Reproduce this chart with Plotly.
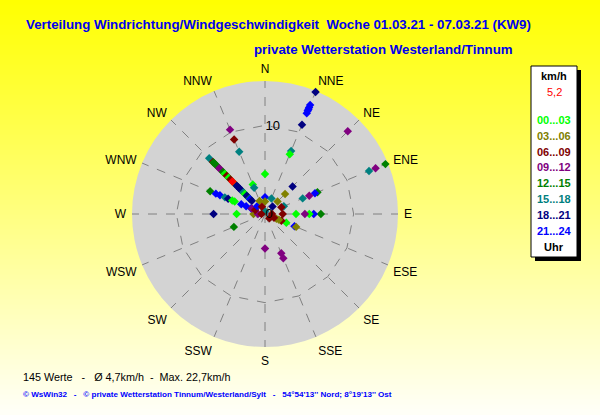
import plotly.graph_objects as go

# Windrichtung (16 Sektoren), Geschwindigkeit in km/h, Zeitfenster-Index
directions = ["N", "NNE", "NE", "ENE", "E", "ESE", "SE", "SSE",
              "S", "SSW", "SW", "WSW", "W", "WNW", "NW", "NNW"]

slot_labels = ["00...03", "03...06", "06...09", "09...12",
               "12...15", "15...18", "18...21", "21...24"]
slot_colors = ["#00ff00", "#808000", "#800000", "#800080",
               "#008000", "#008080", "#000080", "#0000ff"]
current_color = "#ff0000"
current_speed = "5,2"

point_dir = [
    "N", "N", "N", "N", "N",
    "NNE", "NNE", "NNE", "NNE", "NNE", "NNE", "NNE", "NNE", "NNE", "NNE",
    "NE", "NE", "NE", "NE", "NE",
    "ENE", "ENE", "ENE", "ENE", "ENE", "ENE", "ENE", "ENE", "ENE", "ENE",
    "E", "E", "E", "E", "E", "E", "E",
    "ESE", "ESE", "ESE", "ESE", "ESE", "ESE", "ESE",
    "SE", "SSE", "SSE", "S", "WSW",
    "W", "W", "W", "W", "W",
    "WNW", "WNW", "WNW", "WNW", "WNW", "WNW", "WNW", "WNW", "WNW", "WNW", "WNW", "WNW",
    "NW", "NW", "NW", "NW", "NW", "NW", "NW", "NW", "NW", "NW", "NW", "NW",
    "NW", "NW", "NW", "NW", "NW", "NW", "NW", "NW", "NW", "NW", "NW", "NW", "NW", "NW",
    "NNW", "NNW", "NNW", "NNW", "NNW", "NNW", "NNW",
]
point_speed = [
    0.0, 0.3, 4.5, 1.9, 1.4,
    14.9, 13.3, 13.0, 12.8, 12.6, 12.3, 10.9, 7.7, 7.3, 1.9,
    13.2, 4.4, 3.2, 2.0, 1.2,
    15.1, 14.7, 13.5, 12.7, 6.4, 6.1, 5.4, 4.6, 2.3, 2.0,
    6.3, 5.5, 5.0, 4.5, 3.5, 2.0, 0.8,
    3.6, 3.8, 2.6, 2.0, 1.7, 1.4, 1.1,
    0.7, 4.8, 5.4, 3.9, 3.8,
    5.8, 3.2, 1.3, 0.8, 0.4,
    6.7, 6.0, 5.5, 4.9, 4.5, 4.0, 3.7, 2.9, 2.3, 1.7, 1.6, 1.2,
    8.9, 8.3, 8.2, 7.9, 7.6, 7.3, 7.0, 6.7, 6.4, 6.1, 5.8, 5.5,
    5.0, 4.8, 4.5, 4.25, 4.0, 3.7, 3.45, 3.2, 2.9, 2.65, 2.45, 2.4, 2.1, 1.25,
    10.3, 9.1, 7.6, 3.6, 3.2, 1.6, 0.9,
]
point_slot = [
    0, 5, 0, 7, 1,
    6, 7, 7, 7, 7, 7, 6, 5, 0, 5,
    3, 6, 1, 1, 6,
    4, 4, 3, 5, 4, 7, 3, 5, 5, 2,
    4, 7, 0, 3, 0, 2, 2,
    7, 1, 0, 2, 1, 1, 2,
    2, 3, 3, 3, 4,
    6, 0, 1, 3, 2,
    4, 7, 7, 5, 6, 0, 0, 7, 7, 7, 3, 2,
    5, 2, 4, 4, 4, 3, 3, 4, 0, 2, 0, 2,
    1, 1, 6, 6, 6, 6, 5, 0, 6, 6, 0, 7, 6, 7,
    3, 2, 5, 0, 5, 1, 2,
]
# aktueller Wert (rot)
current_dir = "NW"
current_value = 5.2

W, H = 600, 415


def px(x):
    return x / W


def py(y):
    return 1 - y / H


fig = go.Figure()

# alle 16 Sektoren anlegen
fig.add_trace(go.Scatterpolar(
    r=[0] * len(directions), theta=directions, mode="markers",
    marker=dict(opacity=0), hoverinfo="skip", showlegend=False
))

fig.add_trace(go.Scatterpolar(
    r=point_speed, theta=point_dir, mode="markers",
    marker=dict(symbol="diamond", size=6.5,
                color=[slot_colors[s] for s in point_slot],
                line=dict(width=0)),
    cliponaxis=False, showlegend=False
))

fig.add_trace(go.Scatterpolar(
    r=[current_value], theta=[current_dir], mode="markers",
    marker=dict(symbol="diamond", size=6.5, color=current_color, line=dict(width=0)),
    cliponaxis=False, showlegend=False
))

# Hintergrund: Verlauf gelb -> hell
shapes = []
n_bands = 83
for i in range(n_bands):
    y0 = i * H / n_bands
    y1 = (i + 1) * H / n_bands
    t = (y0 + y1) / 2 / H
    b = int(round(248 * t))
    shapes.append(dict(type="rect", xref="paper", yref="paper",
                       x0=0, x1=1, y0=py(y1) - 0.001, y1=py(y0) + 0.001,
                       fillcolor=f"rgb(255,255,{b})", line=dict(width=0), layer="below"))

# graue Scheibe
cx, cy, rad = 265, 214, 133
shapes.append(dict(type="circle", xref="paper", yref="paper",
                   x0=px(cx - rad), x1=px(cx + rad), y0=py(cy + rad), y1=py(cy - rad),
                   fillcolor="#d3d3d3", line=dict(width=0), layer="below"))

# Legendenkasten mit Schatten
shapes.append(dict(type="rect", xref="paper", yref="paper",
                   x0=px(535), x1=px(581), y0=py(261), y1=py(70),
                   fillcolor="black", line=dict(width=0)))
shapes.append(dict(type="rect", xref="paper", yref="paper",
                   x0=px(531), x1=px(577), y0=py(257), y1=py(66),
                   fillcolor="white", line=dict(color="black", width=1)))

annotations = []
font_name = "Liberation Sans, Arial, sans-serif"


def add_text(x, y, text, size, color, anchor="left"):
    annotations.append(dict(x=px(x), y=py(y), xref="paper", yref="paper",
                            text=text, showarrow=False, xanchor=anchor, yanchor="middle",
                            font=dict(family=font_name, size=size, color=color)))


add_text(24, 25, "<b>Verteilung Windrichtung/Windgeschwindigkeit\u00a0 Woche 01.03.21 - 07.03.21 (KW9)</b>",
         13.3, "#0000ee")
add_text(252, 50, "<b>private Wetterstation Westerland/Tinnum</b>", 13.3, "#0000ee")

add_text(554, 76, "<b>km/h</b>", 11, "black", "center")
add_text(554, 92, current_speed, 11, current_color, "center")
for i, (lab, col) in enumerate(zip(slot_labels, slot_colors)):
    add_text(554, 120 + i * 15.8, f"<b>{lab}</b>", 11, col, "center")
add_text(554, 247, "<b>Uhr</b>", 11, "black", "center")

add_text(21, 377, "145 Werte \u00a0 - \u00a0 Ø 4,7km/h \u00a0- \u00a0Max. 22,7km/h", 10.8, "black")
add_text(21, 394, "<b>© WsWin32 \u00a0 - \u00a0 © private Wetterstation Tinnum/Westerland/Sylt \u00a0 - \u00a0 "
                  "54°54'13'' Nord; 8°19'13'' Ost</b>", 8.1, "#0000ff")

fig.update_layout(
    width=W, height=H,
    margin=dict(l=0, r=0, t=0, b=0),
    paper_bgcolor="#ffff80",
    shapes=shapes,
    annotations=annotations,
    showlegend=False,
    polar=dict(
        domain=dict(x=[px(cx - rad), px(cx + rad)], y=[py(cy + rad), py(cy - rad)]),
        bgcolor="rgba(0,0,0,0)",
        gridshape="linear",
        angularaxis=dict(
            type="category", categoryorder="array", categoryarray=directions,
            rotation=90, direction="clockwise",
            showline=False, ticks="outside", ticklen=3, tickcolor="rgba(0,0,0,0)",
            gridcolor="#808080", griddash="dash", gridwidth=1,
            tickfont=dict(family=font_name, size=12, color="black"),
        ),
        radialaxis=dict(
            range=[0, 15], tickvals=[0, 10], angle=90, tickangle=90,
            showline=False, ticks="",
            gridcolor="#808080", griddash="dash", gridwidth=1,
            tickfont=dict(family=font_name, size=13, color="black"),
        ),
    ),
)

fig.write_html("out.html", config={"displayModeBar": False},
               post_script="document.body.style.margin='0';")
